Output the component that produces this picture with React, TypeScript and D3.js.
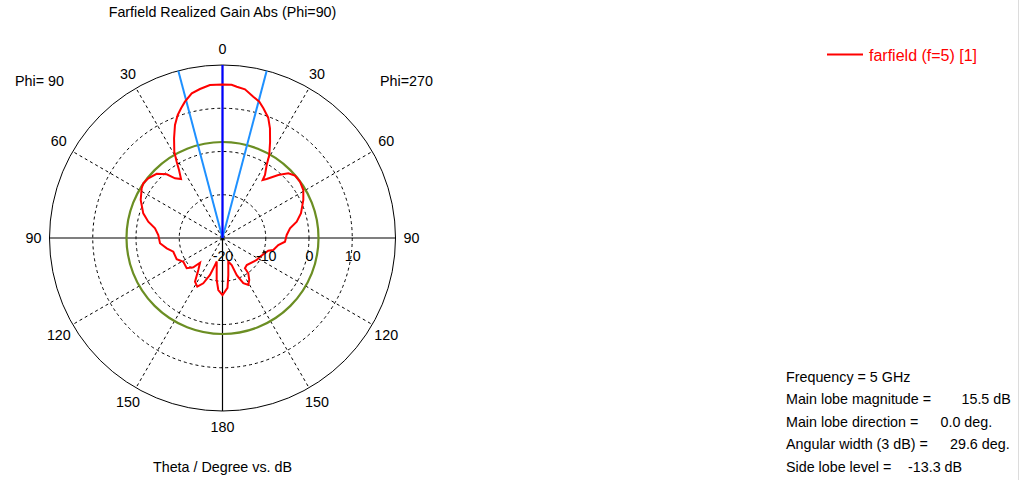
import React from 'react';
import * as d3 from 'd3';

// Theta (deg, clockwise from top; negative = Phi=90 side) and realized gain (dB)
const thetaDeg = [
  -180, -175.4, -172.1, -166.2, -164.5, -161.3, -157, -152.6, -147.8, -142.9,
  -137.7, -135.1, -130.2, -121.2, -114.9, -105.6, -100.5, -94.8, -87.3, -81.8,
  -77.6, -72.7, -65.1, -58.4, -55.4, -51.2, -45.7, -41.2, -38.5, -35.1,
  -32.6, -31, -29.2, -25.9, -22.8, -20, -17.7, -15.4, -12, -8.6,
  -4.7, 0, 3.4, 5.4, 8.6, 12.3, 15.1, 17.5, 20.8, 23.4,
  26.3, 29.4, 31.2, 34, 34.7, 36.8, 41.5, 45.5, 49.3, 54,
  59.3, 64.8, 72.5, 77.6, 81.8, 87.3, 93.4, 97.2, 103.3, 105.5,
  116.5, 122.7, 138.1, 143.4, 143.8, 147.5, 151.2, 155.3, 159, 161.2,
  166.2, 171.1, 174.3, 180,
];
const gainDb = [
  -6.8, -7.93, -10.2, -14.4, -13.5, -10.98, -8.62, -7.33, -8.07, -10.73,
  -12.28, -10.43, -9.16, -9.41, -8.32, -8.19, -6.89, -5.5, -5.14, -4.23,
  -2.43, -0.81, 0.85, 1.94, 2.26, 2.01, 1.27, -0.42, -2.36, -3.33,
  -1.34, 0.58, 2.84, 5.64, 8.35, 10.27, 11.49, 12.69, 14.2, 14.84,
  15.49, 15.5, 15.5, 15.14, 14.77, 13.43, 12.64, 11.44, 9.76, 7.63,
  4.83, 2.03, -0.28, -2.43, -3.68, -2.96, -0.53, 1.34, 2.1, 2.15,
  1.73, 0.65, -0.97, -2.43, -4.23, -5.14, -5.53, -7.0, -7.93, -9.02,
  -10.31, -10.6, -11.6, -11.3, -9.9, -8.49, -7.6, -8.49, -10.8, -13.4,
  -14.4, -11.3, -8.4, -6.8,
];

const angleTicks = [0, 30, 60, 90, 120, 150, 180];
const radialLabelTicks = [-20, -10, 0, 10];
const gridCircleTicks = [-10, 0, 10];
const radialDomain = [-20, 20];

const mainLobeMagnitude = 15.5;
const mainLobeDirection = 0.0;
const angularWidth = 29.6;
const sideLobeLevel = -13.3;

const infoLabels = [
  'Frequency = 5 GHz',
  'Main lobe magnitude =',
  'Main lobe direction =',
  'Angular width (3 dB) =',
  'Side lobe level =',
];
const infoValues = ['', '15.5 dB', '0.0 deg.', '29.6 deg.', '-13.3 dB'];
const infoValueX = [0, 961.5, 940.5, 950, 908];

const legendLabel = 'farfield (f=5) [1]';
const titleText = 'Farfield Realized Gain Abs (Phi=90)';
const axisTitle = 'Theta / Degree vs. dB';

const FONT = '"Liberation Sans", Arial, sans-serif';
const FS = 14.3;

export default function App() {
  const W = 1023;
  const H = 480;
  const cx = 222.5;
  const cy = 238;
  const R = 173;
  const r = d3.scaleLinear().domain(radialDomain).range([0, R]);
  const rad = (deg: number) => (deg * Math.PI) / 180;
  const px = (deg: number, rr: number) => cx + rr * Math.sin(rad(deg));
  const py = (deg: number, rr: number) => cy - rr * Math.cos(rad(deg));

  const pts: [number, number][] = thetaDeg.map((t, i) => [rad(t), r(gainDb[i])]);
  const radial = d3
    .lineRadial<[number, number]>()
    .angle((d) => d[0])
    .radius((d) => d[1])
    .curve(d3.curveLinearClosed);
  const pathD = radial(pts) || '';

  const dashedSpokes: number[] = [];
  angleTicks.forEach((a) => {
    if (a % 90 !== 0) {
      dashedSpokes.push(a, -a);
    }
  });

  const labelR = 189;
  const angleLabels: { a: number; text: string }[] = [];
  angleTicks.forEach((a) => {
    angleLabels.push({ a, text: String(a) });
    if (a !== 0 && a !== 180) angleLabels.push({ a: -a, text: String(a) });
  });

  const halfW = angularWidth / 2;

  return (
    <svg
      width={W}
      height={H}
      style={{ position: 'absolute', left: 0, top: 0, background: '#fff' }}
      fontFamily={FONT}
    >
      <rect x={0} y={0} width={W} height={H} fill="#fff" />
      <line x1={1018.5} y1={0} x2={1018.5} y2={H} stroke="#dcdcdc" strokeWidth={1} />

      <text x={cx} y={12} textAnchor="middle" dominantBaseline="central" fontSize={FS} fill="#000">
        {titleText}
      </text>

      {/* grid */}
      <g transform={`translate(${cx},${cy})`}>
        {gridCircleTicks.map((v) => (
          <circle key={v} r={r(v)} fill="none" stroke="#000" strokeWidth={1} strokeDasharray="3,3" />
        ))}
        {dashedSpokes.map((a) => (
          <line
            key={a}
            x1={0}
            y1={0}
            x2={R * Math.sin(rad(a))}
            y2={-R * Math.cos(rad(a))}
            stroke="#000"
            strokeWidth={1}
            strokeDasharray="3,3"
          />
        ))}
        <circle r={R} fill="none" stroke="#000" strokeWidth={1} />
        <line x1={-R} y1={0} x2={R} y2={0} stroke="#000" strokeWidth={1.2} />
        <line x1={0} y1={-R} x2={0} y2={R} stroke="#000" strokeWidth={1.2} />
      </g>

      {/* side lobe level circle */}
      <circle
        cx={cx}
        cy={cy}
        r={r(mainLobeMagnitude + sideLobeLevel)}
        fill="none"
        stroke="#6b8e23"
        strokeWidth={2.2}
      />

      {/* beam width lines */}
      {[-halfW, halfW].map((a) => (
        <line
          key={a}
          x1={cx}
          y1={cy}
          x2={px(mainLobeDirection + a, R)}
          y2={py(mainLobeDirection + a, R)}
          stroke="#1e90ff"
          strokeWidth={2}
        />
      ))}
      <line
        x1={cx}
        y1={cy}
        x2={px(mainLobeDirection, R)}
        y2={py(mainLobeDirection, R)}
        stroke="#0000ff"
        strokeWidth={2.2}
      />

      {/* data */}
      <path d={pathD} transform={`translate(${cx},${cy})`} fill="none" stroke="#ff0000" strokeWidth={2} />

      {/* angle labels */}
      {angleLabels.map((l, i) => {
        const a = Math.abs(l.a);
        const dy = a === 60 ? -2.5 : a === 120 ? 2.5 : 0;
        return (
          <text
            key={i}
            x={px(l.a, labelR)}
            y={py(l.a, labelR) + dy}
            textAnchor="middle"
            dominantBaseline="central"
            fontSize={FS}
            fill="#000"
          >
            {l.text}
          </text>
        );
      })}

      {/* radial labels */}
      {radialLabelTicks.map((v) => (
        <text
          key={v}
          x={cx + r(v) + 0.5}
          y={cy + 18}
          textAnchor="middle"
          dominantBaseline="central"
          fontSize={FS}
          fill="#000"
        >
          {v}
        </text>
      ))}

      <text x={15} y={80.5} dominantBaseline="central" fontSize={FS} fill="#000">
        Phi= 90
      </text>
      <text x={380} y={80.5} dominantBaseline="central" fontSize={FS} fill="#000">
        Phi=270
      </text>

      <text x={cx} y={466.5} textAnchor="middle" dominantBaseline="central" fontSize={FS} fill="#000">
        {axisTitle}
      </text>

      {/* legend */}
      <line x1={827} y1={54.5} x2={863} y2={54.5} stroke="#ff0000" strokeWidth={2} />
      <text x={869} y={55.5} dominantBaseline="central" fontSize={16} fill="#ff0000">
        {legendLabel}
      </text>

      {/* info */}
      {infoLabels.map((t, i) => (
        <g key={i}>
          <text x={786} y={376.5 + i * 22.5} dominantBaseline="central" fontSize={FS} fill="#000">
            {t}
          </text>
          {infoValues[i] && (
            <text x={infoValueX[i]} y={376.5 + i * 22.5} dominantBaseline="central" fontSize={FS} fill="#000">
              {infoValues[i]}
            </text>
          )}
        </g>
      ))}
    </svg>
  );
}
